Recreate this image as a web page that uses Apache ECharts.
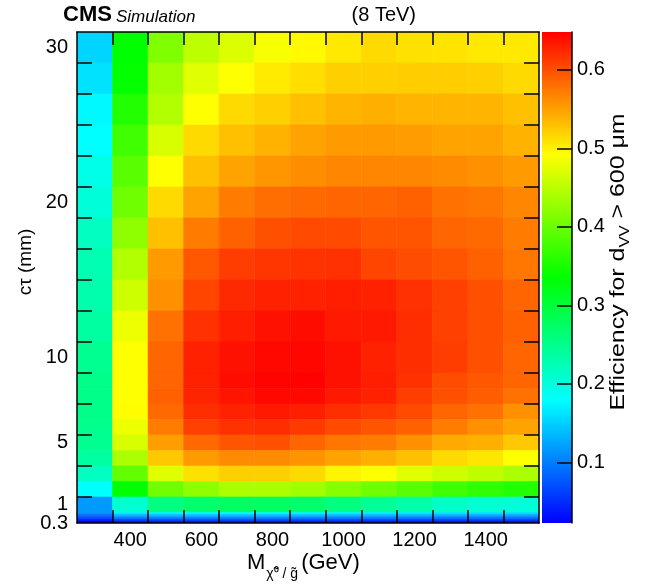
<!DOCTYPE html>
<html><head><meta charset="utf-8">
<script src="https://cdn.jsdelivr.net/npm/echarts@6/dist/echarts.min.js"></script>
<style>html,body{margin:0;padding:0;background:#fff}#c{width:668px;height:586px}</style>
</head><body><div id="c"></div>
<script>
// ---------------- data ----------------
const massGeV = [300,400,500,600,700,800,900,1000,1100,1200,1300,1400,1500];
const massBinWidth = 100;
// cτ rows, top to bottom (the last five are thin sub-mm rows)
const ctauRows = ['30','28','26','24','22','20','18','16','14','12','10','9','8','7','6','5','4','3','2','1','0.9','0.7','0.5','0.4','0.3'];
// row edges on the (display) cτ axis, top to bottom
const ctauEdges = [32,30,28,26,24,22,20,18,16,14,12,10,9,8,7,6,5,4,3,2,1,0.864,0.728,0.592,0.456,0.32];
// efficiency for d_VV > 600 µm, rows top to bottom, columns = massGeV
const efficiency = [
 [0.153,0.335,0.413,0.452,0.470,0.487,0.495,0.505,0.514,0.510,0.508,0.505,0.505],
 [0.161,0.338,0.434,0.473,0.491,0.504,0.512,0.520,0.520,0.522,0.522,0.520,0.514],
 [0.175,0.356,0.444,0.491,0.514,0.520,0.530,0.537,0.541,0.537,0.537,0.537,0.530],
 [0.179,0.374,0.468,0.514,0.530,0.538,0.548,0.554,0.554,0.552,0.548,0.548,0.538],
 [0.193,0.390,0.491,0.530,0.548,0.556,0.562,0.566,0.566,0.566,0.563,0.560,0.554],
 [0.203,0.404,0.514,0.548,0.572,0.581,0.584,0.586,0.586,0.589,0.579,0.576,0.566],
 [0.218,0.423,0.530,0.572,0.589,0.599,0.603,0.603,0.596,0.596,0.586,0.584,0.572],
 [0.228,0.444,0.554,0.594,0.611,0.615,0.617,0.618,0.606,0.601,0.596,0.589,0.576],
 [0.230,0.462,0.560,0.606,0.623,0.628,0.628,0.630,0.628,0.618,0.609,0.599,0.586],
 [0.237,0.481,0.579,0.618,0.630,0.638,0.641,0.633,0.633,0.620,0.609,0.599,0.589],
 [0.247,0.491,0.586,0.628,0.638,0.643,0.644,0.638,0.628,0.620,0.611,0.599,0.586],
 [0.252,0.491,0.586,0.628,0.641,0.646,0.647,0.638,0.630,0.618,0.601,0.594,0.586],
 [0.252,0.491,0.589,0.626,0.636,0.643,0.643,0.633,0.628,0.611,0.599,0.591,0.579],
 [0.252,0.493,0.584,0.620,0.628,0.633,0.630,0.620,0.613,0.603,0.586,0.579,0.560],
 [0.250,0.481,0.572,0.609,0.618,0.620,0.613,0.603,0.596,0.589,0.572,0.560,0.548],
 [0.247,0.468,0.551,0.584,0.596,0.599,0.586,0.576,0.572,0.560,0.544,0.541,0.525],
 [0.237,0.440,0.525,0.554,0.563,0.563,0.558,0.548,0.541,0.530,0.514,0.507,0.491],
 [0.218,0.395,0.473,0.510,0.520,0.520,0.514,0.498,0.491,0.473,0.462,0.452,0.440],
 [0.179,0.335,0.404,0.423,0.440,0.440,0.434,0.418,0.404,0.390,0.374,0.364,0.356],
 [0.117,0.207,0.257,0.271,0.276,0.276,0.271,0.257,0.242,0.230,0.213,0.207,0.203],
 [0.110,0.165,0.170,0.172,0.172,0.172,0.170,0.168,0.165,0.163,0.160,0.158,0.156],
 [0.090,0.135,0.140,0.142,0.142,0.142,0.140,0.138,0.136,0.134,0.132,0.130,0.128],
 [0.070,0.105,0.108,0.110,0.110,0.110,0.108,0.106,0.105,0.104,0.102,0.100,0.098],
 [0.050,0.072,0.075,0.076,0.076,0.076,0.075,0.074,0.073,0.072,0.071,0.070,0.069],
 [0.023,0.038,0.040,0.040,0.040,0.040,0.040,0.039,0.038,0.038,0.037,0.036,0.035]
];
const zMin = 0.023, zMax = 0.648;
// axis ticks and labels
const xTickEdges = [350,450,550,650,750,850,950,1050,1150,1250,1350,1450];
const xLabelValues = [400,600,800,1000,1200,1400];
const yTickEdges = [2,4,6,8,10,12,14,16,18,20,22,24,26,28,30];
const yLabelText = ['1','5','10','20','30'];
const yLabelPos  = [1.5,5.5,11,21,31];
const yLowLabelText = '0.3';
const yLowLabelPos = 0.32;
const zTicks = [0.1,0.2,0.3,0.4,0.5,0.6];

// ---------------- build ----------------
const FONT = '"Liberation Sans", Arial, Helvetica, sans-serif';
function hueColor(h){
  const f = n => { const k = (n + h/30) % 12; return 0.5 - 0.5*Math.max(-1, Math.min(k-3, 9-k, 1)); };
  const to = x => Math.round(x*255).toString(16).padStart(2,'0');
  return '#' + to(f(0)) + to(f(8)) + to(f(4));
}
const palette = [];
for (let h = 240; h >= 0; h -= 10) palette.push(hueColor(h));
const gradStops = [];
for (let h = 0; h <= 240; h += 10) gradStops.push({offset: h/240, color: hueColor(h)});

const cells = [];
efficiency.forEach((row, r) => {
  row.forEach((v, c) => {
    cells.push([massGeV[c], ctauEdges[r+1], ctauEdges[r], v]);
  });
});

const measureCtx = document.createElement('canvas').getContext('2d');
function tw(text, size, style){ measureCtx.font = (style||'') + ' ' + size + 'px "Liberation Sans"'; return measureCtx.measureText(text).width; }

const black = '#000';
const lineS = {color: black, width: 1.5};

function frameAxis(extra){ return Object.assign({
  type:'value', z:10, splitLine:{show:false},
  axisLine:{show:true, onZero:false, lineStyle:lineS},
}, extra); }

function txt(x, y, text, font, align){
  return {type:'text', x:x, y:y, style:{text:text, font:font, fill:black, textAlign:align||'left', align:align||'left', textVerticalAlign:'middle', verticalAlign:'middle'}};
}
// rotated multi-part title, optionally stretched along its length to targetLen
function rotatedTitle(cx, cy, parts, targetLen){
  let total = 0; parts.forEach(p => { p.w = tw(p.t, p.size); total += p.w; });
  let x = -total/2; const children = [];
  parts.forEach(p => { children.push(txt(x, p.dy||0, p.t, p.size+'px '+FONT)); x += p.w; });
  const s = targetLen ? targetLen/total : 1;
  return {type:'group', x:cx, y:cy, rotation:Math.PI/2, scaleX:s, children};
}
function lineTitle(x0, cy, parts){
  let x = x0; const children = [];
  parts.forEach(p => { const w = tw(p.t, p.size); children.push(txt(x, cy+(p.dy||0), p.t, p.size+'px '+FONT)); x += w + (p.gap||0); });
  return {type:'group', children};
}
function pickLabel(v, pos, text){ let best=0; pos.forEach((p,i)=>{ if(Math.abs(p-v)<Math.abs(pos[best]-v)) best=i; }); return text[best]; }

const chart = echarts.init(document.getElementById('c'), null, {renderer:'canvas'});
chart.setOption({
  animation:false,
  backgroundColor:'#fff',
  grid:[
    {left:77, right:129, top:32, bottom:63},
    {left:542, width:30, top:32, bottom:63}
  ],
  xAxis:[
    frameAxis({gridIndex:0, min:250, max:1550, position:'bottom',
      axisTick:{show:true, inside:true, length:13, customValues:xTickEdges, lineStyle:lineS},
      axisLabel:{show:true, customValues:xLabelValues, fontSize:20, color:black, margin:7, fontFamily:FONT, formatter: v => String(v)}}),
    frameAxis({gridIndex:0, min:250, max:1550, position:'top',
      axisTick:{show:true, inside:true, length:13, customValues:xTickEdges, lineStyle:lineS},
      axisLabel:{show:false}}),
    {gridIndex:1, type:'value', min:0, max:1, show:false}
  ],
  yAxis:[
    frameAxis({gridIndex:0, min:0.32, max:32, position:'left',
      axisTick:{show:true, inside:true, length:15, customValues:yTickEdges, lineStyle:lineS},
      axisLabel:{show:true, customValues:yLabelPos, showMinLabel:true, showMaxLabel:true, hideOverlap:false, fontSize:20, color:black, margin:9, fontFamily:FONT,
        formatter: v => pickLabel(v, yLabelPos, yLabelText)}}),
    frameAxis({gridIndex:0, min:0.32, max:32, position:'right',
      axisTick:{show:true, inside:true, length:15, customValues:yTickEdges, lineStyle:lineS},
      axisLabel:{show:false}}),
    frameAxis({gridIndex:1, min:zMin, max:zMax, position:'right',
      axisTick:{show:true, inside:true, length:15, customValues:zTicks, lineStyle:lineS},
      axisLabel:{show:true, customValues:zTicks, fontSize:20, color:black, margin:5, fontFamily:FONT, formatter: v => v.toFixed(1)}}),
    {gridIndex:0, type:'value', min:0.32, max:32, position:'left', z:10, splitLine:{show:false},
      axisLine:{show:false, onZero:false}, axisTick:{show:false},
      axisLabel:{show:true, customValues:[yLowLabelPos], showMinLabel:true, fontSize:20, color:black, margin:9, fontFamily:FONT,
        formatter: () => yLowLabelText}}
  ],
  visualMap:{show:false, type:'continuous', seriesIndex:0, dimension:3, min:zMin, max:zMax, inRange:{color:palette}},
  series:[
    {type:'custom', xAxisIndex:0, yAxisIndex:0, clip:true, data:cells, encode:{x:0, y:[1,2]},
      renderItem:(params, api) => {
        const m = api.value(0), y0 = api.value(1), y1 = api.value(2);
        const p0 = api.coord([m - massBinWidth/2, y1]);
        const p1 = api.coord([m + massBinWidth/2, y0]);
        const col = api.visual('color');
        return {type:'rect', shape:{x:p0[0], y:p0[1], width:p1[0]-p0[0], height:p1[1]-p0[1]},
          style:{fill:col, stroke:col, lineWidth:0.6}};
      }},
    {type:'custom', xAxisIndex:2, yAxisIndex:2, clip:false, data:[[0, zMin, zMax]], encode:{x:0, y:[1,2]},
      renderItem:(params, api) => {
        const p0 = api.coord([0, zMax]);
        const p1 = api.coord([1, zMin]);
        return {type:'rect', shape:{x:p0[0], y:p0[1], width:p1[0]-p0[0], height:p1[1]-p0[1]},
          style:{fill:{type:'linear', x:0, y:0, x2:0, y2:1, colorStops:gradStops}}};
      }}
  ],
  graphic:[
    txt(63, 15, 'CMS', 'bold 22px '+FONT),
    txt(116, 17, 'Simulation', 'italic 17px '+FONT),
    txt(416, 15, '(8 TeV)', '20px '+FONT, 'right'),
    lineTitle(247, 563, [{t:'M', size:22, gap:1},{t:'χ̃⁰ / g̃', size:14, dy:11, gap:3},{t:'(GeV)', size:22}]),
    rotatedTitle(26, 262, [{t:'cτ (mm)', size:19}]),
    rotatedTitle(618, 262, [{t:'Efficiency for d', size:21},{t:'VV', size:14, dy:7},{t:' > 600 μm', size:21}], 297)
  ]
});
</script></body></html>
